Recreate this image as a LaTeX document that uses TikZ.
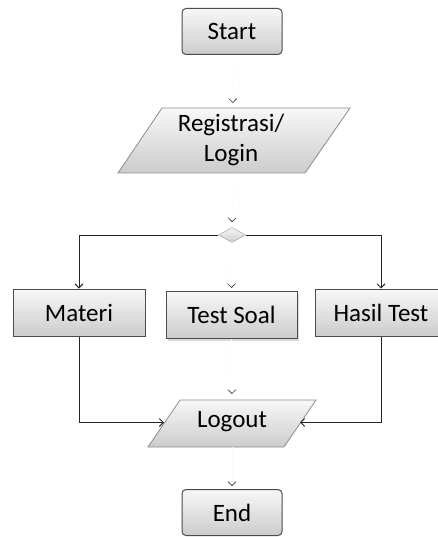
\documentclass[tikz,border=0pt]{standalone}
\usepackage{fontspec}
\setmainfont{Carlito}
\usetikzlibrary{arrows.meta,shapes.geometric,shadows}
\begin{document}
\begin{tikzpicture}[x=1pt,y=-1pt,
  font=\fontsize{25}{32}\selectfont,
  grad/.style={top color=gray!6,bottom color=gray!40,draw=black!70,line width=1pt},
  termbox/.style={grad,rounded corners=4pt,minimum width=100pt,minimum height=46pt,inner sep=0pt},
  procbox/.style={grad,minimum height=47pt,inner sep=0pt},
  parabox/.style={top color=gray!6,bottom color=gray!40,draw=black!45,line width=0.8pt},
  txt/.style={inner sep=0pt,align=center},
  conn/.style={draw=black!85,line width=1pt,-{Straight Barb[length=4pt,width=8pt]}},
  faint/.style={draw=gray!3,line width=0.6pt,-{Straight Barb[length=4pt,width=8pt,color=black!80]}}
]
\useasboundingbox (0,0) rectangle (438,537);
\clip (0,0) rectangle (438,537);

% Start
\node[termbox] (start) at (232,31.5) {Start};

% Registrasi/Login parallelogram
\path[parabox] (162,108) -- (350,108) -- (305,173) -- (118,173) -- cycle;
\node[txt] (reg) at (231,140) {Registrasi/\\[-2pt]Login};
\coordinate (regtop) at (233,108);
\coordinate (regbot) at (233,173);

% decision
\node[diamond,grad,line width=0.6pt,draw=gray!60,minimum width=27pt,minimum height=15pt,inner sep=0pt] (dia) at (232,235) {};

% process boxes
\node[procbox,minimum width=132pt] (materi) at (79,312.5) {Materi};
\node[procbox,minimum width=131pt,drop shadow={shadow xshift=2pt,shadow yshift=-2pt,opacity=0.3}] (soal) at (231.5,315) {Test Soal};
\node[procbox,minimum width=132pt] (hasil) at (381,312.5) {Hasil Test};

% Logout parallelogram
\path[parabox] (180,400) -- (316,400) -- (284,447) -- (148,447) -- cycle;
\node[txt] (logout) at (232,422) {Logout};
\coordinate (logtop) at (232,400);
\coordinate (logbot) at (232,447);
\coordinate (lin) at (164,422.5);
\coordinate (rin) at (300,422.5);

% End
\node[termbox] (end) at (232,512.5) {End};

% connectors
\draw[faint,shorten >=5pt] (start.south) -- (regtop);
\draw[faint,shorten >=5pt] (regbot) -- (dia.north);
\draw[faint,shorten >=3pt] (dia.south) -- (soal.north);
\draw[faint,shorten >=6pt] (soal.south) -- (logtop);
\draw[faint,shorten >=3pt] (logbot) -- (end.north);
\draw[conn] (dia.west) -| (materi.north);
\draw[conn] (dia.east) -| (hasil.north);
\draw[conn] (materi.south) |- (lin);
\draw[conn] (hasil.south) |- (rin);
\end{tikzpicture}
\end{document}
